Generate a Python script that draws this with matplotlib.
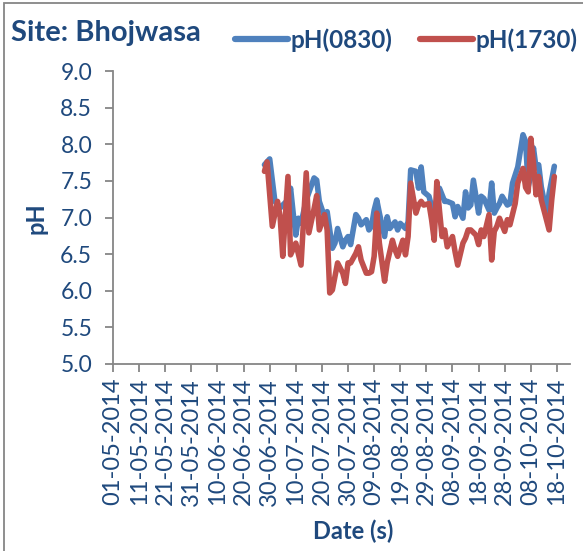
import matplotlib
matplotlib.use("Agg")
import matplotlib.pyplot as plt
import matplotlib.dates as mdates
from matplotlib.patches import Rectangle
import pandas as pd

plt.rcParams['font.family'] = ['Lato', 'DejaVu Sans']

start = pd.Timestamp("2014-05-01")

# days counted from 01-05-2014
blue_day = [58, 60, 61, 62, 64, 65, 67, 68, 69, 70, 71, 72, 74, 77, 78, 79, 81, 82,
            84, 85, 86, 88, 89, 90, 91, 93, 94, 95, 97, 98, 99, 100, 101, 102, 104,
            105, 106, 108, 109, 110, 112, 113, 114, 116, 117, 118, 119, 121, 122, 123,
            125, 126, 127, 128, 130, 131, 132, 134, 135, 136, 137, 138, 140, 141, 142,
            144, 145, 146, 147, 148, 149, 151, 152, 153, 155, 157, 158, 159, 160, 161,
            162, 163, 164, 166, 167, 169]
blue_ph = [7.72, 7.80, 7.51, 7.22, 7.13, 7.17, 7.24, 7.40, 7.06, 6.76, 6.99, 6.92, 7.24,
           7.54, 7.51, 7.22, 7.01, 7.08, 6.58, 6.65, 6.85, 6.60, 6.69, 6.74, 6.63, 7.04,
           6.99, 6.90, 6.97, 6.83, 6.88, 7.10, 7.24, 7.06, 6.74, 7.01, 6.85, 6.94, 6.83,
           6.92, 6.85, 6.94, 7.65, 7.63, 7.40, 7.69, 7.35, 7.29, 7.15, 7.10, 7.40, 7.31,
           7.22, 7.22, 7.19, 7.01, 7.15, 6.99, 7.35, 7.13, 7.17, 7.51, 7.06, 7.29, 7.26,
           7.10, 7.47, 7.06, 7.13, 7.19, 7.29, 7.17, 7.19, 7.47, 7.69, 8.13, 8.04, 7.42,
           7.58, 7.95, 7.68, 7.72, 7.42, 7.06, 7.33, 7.70]

red_day = [58, 59, 61, 63, 64, 65, 67, 68, 70, 72, 74, 75, 77, 78, 79, 81, 82, 83, 84,
           86, 88, 89, 90, 91, 93, 94, 95, 97, 98, 99, 100, 101, 102, 104, 105, 107, 108,
           109, 111, 112, 113, 114, 116, 117, 118, 119, 121, 122, 123, 124, 125, 126, 127,
           128, 130, 131, 132, 134, 135, 136, 137, 139, 140, 141, 142, 144, 145, 146, 147,
           148, 150, 151, 152, 154, 155, 157, 158, 159, 160, 161, 162, 163, 164, 167, 168,
           169]
red_ph = [7.63, 7.76, 6.88, 7.22, 7.01, 6.47, 7.56, 6.49, 6.65, 6.35, 7.61, 6.79, 7.12,
          7.30, 6.83, 7.04, 6.83, 5.97, 6.01, 6.38, 6.24, 6.10, 6.38, 6.38, 6.51, 6.60,
          6.42, 6.24, 6.24, 6.26, 6.47, 7.06, 6.65, 6.13, 6.38, 6.69, 6.56, 6.47, 6.69,
          6.49, 6.74, 7.47, 7.06, 7.17, 7.22, 7.17, 7.19, 6.97, 6.69, 7.49, 7.10, 6.74,
          6.83, 6.60, 6.74, 6.53, 6.35, 6.65, 6.72, 6.83, 6.83, 6.76, 6.63, 6.83, 6.74,
          7.04, 6.42, 6.81, 6.88, 6.99, 6.81, 6.97, 6.90, 7.19, 7.47, 7.67, 7.41, 7.35,
          8.08, 7.74, 7.31, 7.56, 7.24, 6.83, 7.24, 7.56]

blue_dates = start + pd.to_timedelta(blue_day, unit="D")
red_dates = start + pd.to_timedelta(red_day, unit="D")
tick_dates = pd.date_range(start, periods=18, freq="10D")

navy = '#1F497D'
gray = '#868686'

fig = plt.figure(figsize=(5.83, 5.51), dpi=100)
ax = fig.add_axes([113/583, 1 - 364/551, (570 - 113)/583, (364 - 71)/551])

ax.plot(blue_dates, blue_ph, color='#4F81BD', lw=4.0, solid_joinstyle='round',
        solid_capstyle='round', label='pH(0830)')
ax.plot(red_dates, red_ph, color='#C0504D', lw=4.0, solid_joinstyle='round',
        solid_capstyle='round', label='pH(1730)')

ax.set_ylim(5.0, 9.0)
ax.set_yticks([5.0, 5.5, 6.0, 6.5, 7.0, 7.5, 8.0, 8.5, 9.0])
ax.yaxis.set_major_formatter(plt.FormatStrFormatter('%.1f'))
ax.set_xlim(start, start + pd.Timedelta(days=175))
ax.set_xticks(tick_dates)
ax.xaxis.set_major_formatter(mdates.DateFormatter('%d-%m-%Y'))
plt.setp(ax.get_xticklabels(), rotation=90)

for s in ['top', 'right']:
    ax.spines[s].set_visible(False)
for s in ['left', 'bottom']:
    ax.spines[s].set_color(gray)
    ax.spines[s].set_linewidth(1.3)
ax.tick_params(axis='both', colors=gray, width=1.3, length=6, labelcolor=navy)
ax.tick_params(axis='y', pad=9, labelsize=16.5)
ax.tick_params(axis='x', pad=4, labelsize=17)

fig.text(11/583, 1 - 33/551, 'Site: Bhojwasa', fontsize=21, fontweight='bold',
         color=navy, ha='left', va='center')
fig.text(36/583, 1 - 218/551, 'pH', fontsize=17, fontweight='bold', color=navy,
         rotation=90, ha='center', va='center')
fig.text(353/583, 1 - 531/551, 'Date (s)', fontsize=17, fontweight='bold',
         color=navy, ha='center', va='center')

leg = ax.legend(ncol=2, loc='center left', bbox_to_anchor=(235/583, 1 - 40/551),
                bbox_transform=fig.transFigure, frameon=False, fontsize=17.5,
                handlelength=2.2, handletextpad=0.1, columnspacing=1.1,
                borderpad=0, borderaxespad=0)
for t in leg.get_texts():
    t.set_color(navy)
    t.set_fontweight('bold')
for h in leg.legend_handles:
    h.set_linewidth(4.5)

fig.patches.append(Rectangle((4/583, -0.1), 1.1, 1.1 - 3/551,
                             transform=fig.transFigure, fill=False,
                             edgecolor=gray, lw=1.3))

fig.savefig('out.png', dpi=100)
